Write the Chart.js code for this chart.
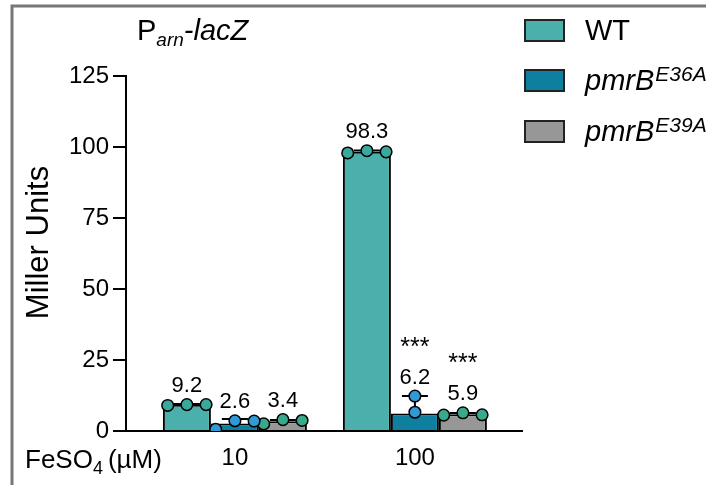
<!DOCTYPE html>
<html><head><meta charset="utf-8">
<script src="https://cdn.jsdelivr.net/npm/chart.js@4"></script>
<style>html,body{margin:0;padding:0;background:#fff;}#wrap{width:706px;height:485px;position:relative;}</style>
</head><body><div id="wrap"><canvas id="c" width="706" height="485"></canvas></div>
<script>
// ---- data ----
const categories = ['10', '100'];
const seriesNames = ['WT', 'pmrB', 'pmrB'];
const seriesSup = ['', 'E36A', 'E39A'];
const wtMeans = [9.2, 98.3];
const e36aMeans = [2.6, 6.2];
const e39aMeans = [3.4, 5.9];
const wtSD = [0.3, 0.5];
const e36aSD = [1.6, 6.1];
const e39aSD = [0.5, 0.4];
const wtReps = [[9.0, 9.3, 9.3], [97.9, 98.7, 98.3]];
const e36aReps = [[0.6, 3.6, 3.5], [12.3, 6.6]];
const e39aReps = [[2.5, 4.0, 3.7], [5.6, 6.4, 5.7]];
const wtSig = ['', ''];
const e36aSig = ['', '***'];
const e39aSig = ['', '***'];
const yTicks = [0, 25, 50, 75, 100, 125];
const yTitle = 'Miller Units';

// ---- styles ----
const barColors = ['#4bb0ac', '#0f7f9f', '#979797'];
const dotColors = ['#3aa89c', '#2f9ad6', '#3aa88a'];
const FONT = '"Liberation Sans", Arial, sans-serif';
const CAT_PCT = 0.8;
const barUnit = CAT_PCT / 3;
const jitter = barUnit * 0.4;

const means = [wtMeans, e36aMeans, e39aMeans];
const sds = [wtSD, e36aSD, e39aSD];
const reps = [wtReps, e36aReps, e39aReps];
const sigs = [wtSig, e36aSig, e39aSig];

function xPos(g, s) { return g + 1 + (s - 1) * barUnit; }

const barDatasets = means.map((m, s) => ({
  type: 'bar', label: seriesNames[s] + seriesSup[s], order: 2,
  data: m.map((v, g) => ({ x: g + 1, y: v })),
  backgroundColor: barColors[s], borderColor: '#000', borderWidth: 2,
  categoryPercentage: CAT_PCT, barPercentage: 1.0
}));
const dotDatasets = reps.map((r, s) => ({
  type: 'scatter', label: 'pts' + s, order: 0,
  data: r.flatMap((arr, g) => arr.map((v, k) => ({
    x: xPos(g, s) + (arr.length === 3 ? (k - 1) * jitter : 0), y: v }))),
  backgroundColor: dotColors[s], borderColor: '#000', borderWidth: 1.5,
  pointRadius: 5.8, showLine: false
}));

let errDrawn = false;
const framePlugin = {
  id: 'frame',
  beforeDraw(chart) {
    const ctx = chart.ctx;
    ctx.save();
    ctx.fillStyle = '#fff'; ctx.fillRect(0, 0, chart.width, chart.height);
    ctx.strokeStyle = '#777'; ctx.lineWidth = 3;
    ctx.beginPath(); ctx.moveTo(12, 485); ctx.lineTo(12, 6); ctx.lineTo(706, 6); ctx.stroke();
    ctx.restore();
    errDrawn = false;
  }
};
const errPlugin = {
  id: 'err',
  beforeDatasetDraw(chart, args) {
    if (errDrawn || args.meta.type !== 'scatter') return;
    errDrawn = true;
    const ctx = chart.ctx, xs = chart.scales.x, ys = chart.scales.y;
    ctx.save(); ctx.strokeStyle = '#000'; ctx.lineWidth = 2;
    means.forEach((m, s) => m.forEach((v, g) => {
      const x = xs.getPixelForValue(xPos(g, s));
      const y0 = ys.getPixelForValue(v), y1 = ys.getPixelForValue(v + sds[s][g]);
      ctx.beginPath(); ctx.moveTo(x, y0); ctx.lineTo(x, y1);
      ctx.moveTo(x - 13, y1); ctx.lineTo(x + 13, y1); ctx.stroke();
    }));
    ctx.restore();
  }
};
const textPlugin = {
  id: 'texts',
  afterDraw(chart) {
    const ctx = chart.ctx, xs = chart.scales.x, ys = chart.scales.y;
    ctx.save(); ctx.fillStyle = '#000'; ctx.textBaseline = 'alphabetic';
    // value labels + stars
    means.forEach((m, s) => m.forEach((v, g) => {
      const x = xs.getPixelForValue(xPos(g, s));
      const top = Math.min(ys.getPixelForValue(v + sds[s][g]), ...reps[s][g].map(r => ys.getPixelForValue(r) - 5.5));
      const base = top - 7;
      ctx.textAlign = 'center';
      ctx.font = '22px ' + FONT;
      ctx.fillText(v.toFixed(1), x, base);
      if (sigs[s][g]) { ctx.font = '25px ' + FONT; ctx.fillText(sigs[s][g], x, base - 29); }
    }));
    // y title
    ctx.save();
    ctx.translate(48, (ys.top + ys.bottom) / 2 - 11);
    ctx.rotate(-Math.PI / 2);
    ctx.textAlign = 'center';
    ctx.font = '31px ' + FONT;
    ctx.fillText(yTitle, 0, 0);
    ctx.restore();
    // title P_arn-lacZ
    ctx.textAlign = 'left';
    let tx = 137; const tb = 40;
    ctx.font = '29px ' + FONT; ctx.fillText('P', tx, tb); tx += ctx.measureText('P').width;
    ctx.font = 'italic 19px ' + FONT; ctx.fillText('arn', tx, tb + 6); tx += ctx.measureText('arn').width;
    ctx.font = 'italic 29px ' + FONT; ctx.fillText('-lacZ', tx, tb);
    // FeSO4 (µM)
    let fx = 25; const fb = 468;
    ctx.font = '26px ' + FONT; ctx.fillText('FeSO', fx, fb); fx += ctx.measureText('FeSO').width;
    ctx.font = '18px ' + FONT; ctx.fillText('4', fx, fb + 6); fx += ctx.measureText('4').width + 5;
    ctx.font = '26px ' + FONT; ctx.fillText('(µM)', fx, fb);
    // legend
    const boxTops = [20, 70, 121];
    barColors.forEach((c, s) => {
      ctx.fillStyle = c; ctx.fillRect(525, boxTops[s], 39, 21);
      ctx.strokeStyle = '#222'; ctx.lineWidth = 2; ctx.strokeRect(525, boxTops[s], 39, 21);
      ctx.fillStyle = '#000';
      const lb = boxTops[s] + 20;
      let lx = 585;
      ctx.font = (s === 0 ? '' : 'italic ') + '29px ' + FONT;
      ctx.fillText(seriesNames[s], lx, lb); lx += ctx.measureText(seriesNames[s]).width;
      if (seriesSup[s]) { ctx.font = 'italic 21px ' + FONT; ctx.fillText(seriesSup[s], lx + 1, lb - 9); }
    });
    ctx.restore();
  }
};

new Chart(document.getElementById('c'), {
  data: { datasets: [...dotDatasets, ...barDatasets] },
  options: {
    responsive: false, animation: false, devicePixelRatio: 1,
    layout: { padding: { left: 0, right: 184, top: 76, bottom: 0 } },
    plugins: { legend: { display: false }, tooltip: { enabled: false }, title: { display: false } },
    scales: {
      x: {
        type: 'linear', min: 0.395, max: 2.595, offset: false,
        afterFit(sc) { sc.height = 54; },
        afterBuildTicks(sc) { sc.ticks = categories.map((c, i) => ({ value: i + 1 })); },
        ticks: { callback: (v) => categories[Math.round(v) - 1] || '', font: { family: FONT, size: 24 }, color: '#000', padding: 13, maxRotation: 0, autoSkip: false },
        grid: { display: false, drawTicks: false },
        border: { display: true, color: '#000', width: 2 }
      },
      y: {
        min: 0, max: 125,
        afterFit(sc) { sc.width = 126; },
        afterBuildTicks(sc) { sc.ticks = yTicks.map(v => ({ value: v })); },
        ticks: { font: { family: FONT, size: 24 }, color: '#000', padding: 4 },
        grid: { drawOnChartArea: false, drawTicks: true, tickLength: 13, color: '#000', lineWidth: 2 },
        border: { display: true, color: '#000', width: 2 },
        title: { display: false }
      }
    }
  },
  plugins: [framePlugin, errPlugin, textPlugin]
});
</script></body></html>
